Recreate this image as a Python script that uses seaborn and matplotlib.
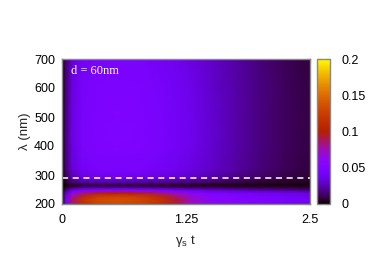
import numpy as np
import matplotlib
matplotlib.use("Agg")
import matplotlib.pyplot as plt
import seaborn as sns

# time axis (gamma_s t) and wavelength axis (nm) of the sampled grid
t_vals = [0, 0.04, 0.1, 0.2, 0.35, 0.55, 0.8, 1.0, 1.15, 1.3, 1.5, 1.75, 2.0, 2.25, 2.5]
lam_vals = [200, 212, 225, 238, 248, 258, 266, 275, 290, 320, 400, 500, 600, 700]

# values, one row per wavelength
z_200 = [0.003, 0.042, 0.080, 0.110, 0.126, 0.130, 0.124, 0.110, 0.090, 0.070, 0.057, 0.051, 0.047, 0.043, 0.039]
z_212 = [0.003, 0.044, 0.086, 0.116, 0.132, 0.136, 0.130, 0.115, 0.094, 0.074, 0.059, 0.053, 0.049, 0.045, 0.041]
z_225 = [0.003, 0.040, 0.078, 0.108, 0.125, 0.130, 0.124, 0.108, 0.088, 0.069, 0.056, 0.051, 0.047, 0.043, 0.039]
z_238 = [0.002, 0.030, 0.058, 0.080, 0.095, 0.100, 0.095, 0.082, 0.068, 0.056, 0.048, 0.044, 0.041, 0.038, 0.035]
z_248 = [0.001, 0.017, 0.036, 0.048, 0.055, 0.057, 0.054, 0.048, 0.042, 0.036, 0.031, 0.027, 0.023, 0.020, 0.017]
z_258 = [0.000, 0.006, 0.013, 0.018, 0.020, 0.020, 0.018, 0.016, 0.014, 0.012, 0.011, 0.010, 0.009, 0.008, 0.007]
z_266 = [0.000, 0.002, 0.005, 0.007, 0.008, 0.008, 0.007, 0.006, 0.005, 0.004, 0.003, 0.003, 0.002, 0.002, 0.002]
z_275 = [0.001, 0.006, 0.014, 0.020, 0.022, 0.022, 0.021, 0.019, 0.017, 0.015, 0.012, 0.009, 0.007, 0.005, 0.004]
z_290 = [0.001, 0.010, 0.024, 0.033, 0.036, 0.037, 0.036, 0.033, 0.031, 0.028, 0.023, 0.017, 0.012, 0.009, 0.007]
z_320 = [0.002, 0.015, 0.032, 0.042, 0.045, 0.046, 0.045, 0.042, 0.039, 0.035, 0.029, 0.022, 0.016, 0.011, 0.008]
z_400 = [0.002, 0.017, 0.035, 0.045, 0.048, 0.049, 0.048, 0.045, 0.042, 0.038, 0.031, 0.023, 0.017, 0.012, 0.009]
z_500 = [0.002, 0.017, 0.035, 0.045, 0.048, 0.049, 0.048, 0.045, 0.042, 0.038, 0.031, 0.023, 0.017, 0.012, 0.009]
z_600 = [0.002, 0.016, 0.034, 0.044, 0.047, 0.048, 0.047, 0.044, 0.041, 0.037, 0.030, 0.023, 0.017, 0.012, 0.009]
z_700 = [0.002, 0.015, 0.032, 0.042, 0.045, 0.046, 0.045, 0.042, 0.039, 0.035, 0.029, 0.022, 0.016, 0.011, 0.008]

cutoff_nm = 290
label_text = "d = 60nm"
x_ticks = [0, 1.25, 2.5]
x_tick_labels = ["0", "1.25", "2.5"]
y_ticks = [200, 300, 400, 500, 600, 700]
cb_ticks = [0, 0.05, 0.1, 0.15, 0.2]
cb_tick_labels = ["0", "0.05", "0.1", "0.15", "0.2"]

Z = np.array([z_200, z_212, z_225, z_238, z_248, z_258, z_266, z_275,
              z_290, z_320, z_400, z_500, z_600, z_700])

sns.set_theme(style="white")
plt.rcParams["font.family"] = ["Liberation Sans", "DejaVu Sans"]
cmap = sns.color_palette("gnuplot", as_cmap=True)

fig = plt.figure(figsize=(3.74, 2.62), dpi=100)
ax = fig.add_axes([62 / 374, 1 - 204 / 262, 248 / 374, 145 / 262])
cax = fig.add_axes([317 / 374, 1 - 204 / 262, 13 / 374, 145 / 262])

T, L = np.meshgrid(t_vals, lam_vals)
mesh = ax.pcolormesh(T, L, Z, shading="gouraud", cmap=cmap, vmin=0, vmax=0.2)
ax.axhline(cutoff_nm, color="white", linestyle=(0, (4, 3)), linewidth=1.1)

ax.set_xlim(0, 2.5)
ax.set_ylim(200, 700)
ax.set_xticks(x_ticks)
ax.set_xticklabels(x_tick_labels)
ax.set_xticks([0.625, 1.875], minor=True)
ax.set_yticks(y_ticks)
ax.tick_params(which="both", direction="in", top=True, right=True,
               length=3.5, width=0.8, color="#222222", labelsize=9)
ax.tick_params(axis="x", pad=7)
ax.tick_params(axis="y", pad=5)
ax.tick_params(which="both", labelcolor="black")
ax.set_xlabel("γ$_\\mathregular{s}$ t", fontsize=9.5, labelpad=5)
ax.set_ylabel("λ (nm)", fontsize=9.5, labelpad=2)
for s in ax.spines.values():
    s.set_color("#888888")
    s.set_linewidth(1.0)

ax.text(0.035, 0.92, label_text, transform=ax.transAxes, color="white",
        fontsize=9, family="Liberation Serif", va="center", ha="left")

cb = fig.colorbar(mesh, cax=cax)
cb.set_ticks(cb_ticks)
cb.set_ticklabels(cb_tick_labels)
cb.ax.tick_params(direction="in", left=True, right=True, length=3, width=0.8,
                  color="#222222", labelsize=9, pad=8, labelcolor="black")
cb.outline.set_edgecolor("#888888")
cb.outline.set_linewidth(1.0)

fig.savefig("out.png", dpi=100)
